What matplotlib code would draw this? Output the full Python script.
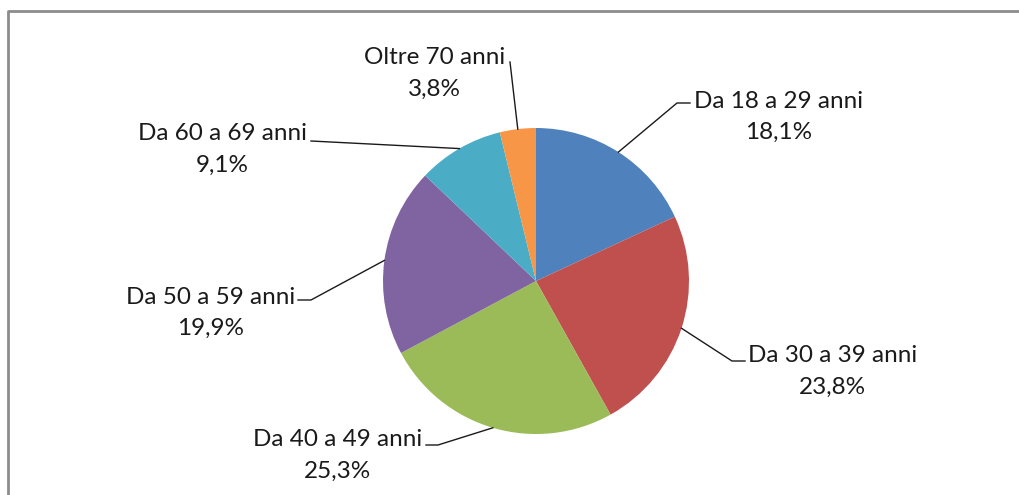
import matplotlib.pyplot as plt
from matplotlib.lines import Line2D
import numpy as np

categories = ["Da 18 a 29 anni", "Da 30 a 39 anni", "Da 40 a 49 anni",
              "Da 50 a 59 anni", "Da 60 a 69 anni", "Oltre 70 anni"]
values = [18.1, 23.8, 25.3, 19.9, 9.1, 3.8]
colors = ["#4F81BD", "#C0504D", "#9BBB59", "#8064A2", "#4BACC6", "#F79646"]

# layout, in image pixels (y from top): label anchor, alignment, leader elbow
H = 495
CX, CY, R = 536, 281, 153
label_pos = [(694, 101, "left"), (748, 356, "left"), (422, 440, "right"),
             (295, 297, "right"), (307, 134, "right"), (505, 58, "right")]
elbow = [[(690, 103), (677, 103)], [(745, 361), (732, 361)],
         [(426, 445), (438, 445)], [(298, 300), (311, 300)],
         [(311, 141)], [(510, 62)]]


def fmt(v):
    return f"{v:.1f}".replace(".", ",") + "%"


def main():
    plt.rcParams['font.family'] = ['Lato', 'DejaVu Sans']
    fig = plt.figure(figsize=(10.2, 4.95), dpi=100)
    ax = fig.add_axes([0, 0, 1, 1])

    wedges, _ = ax.pie(values, colors=colors, startangle=90, counterclock=False,
                       center=(CX, H - CY), radius=R, frame=True,
                       wedgeprops=dict(linewidth=0))
    ax.set_xlim(0, 1020)
    ax.set_ylim(0, H)
    ax.set_aspect('equal')
    ax.axis('off')

    for w, cat, v, (lx, ly, ha), pts in zip(wedges, categories, values, label_pos, elbow):
        ang = np.deg2rad((w.theta1 + w.theta2) / 2)
        ex = CX + R * np.cos(ang)
        ey = (H - CY) + R * np.sin(ang)
        xs = [p[0] for p in pts] + [ex]
        ys = [H - p[1] for p in pts] + [ey]
        ax.add_line(Line2D(xs, ys, color="#1a1a1a", lw=1.0))
        # two-line label, second line centred under the first
        t = ax.text(lx, H - ly, cat, ha=ha, va='center', fontsize=17.5, color="#1a1a1a")
        fig.canvas.draw()
        bb = t.get_window_extent().transformed(ax.transData.inverted())
        ax.text((bb.x0 + bb.x1) / 2, H - ly - 31, fmt(v), ha='center', va='center',
                fontsize=17.5, color="#1a1a1a")

    # chart frame (top and left visible)
    ax.add_line(Line2D([8, 8, 1020], [0, H - 11, H - 11], color="#8c8c8c", lw=2))

    fig.savefig("out.png", dpi=100, facecolor="white")


if __name__ == '__main__':
    main()
